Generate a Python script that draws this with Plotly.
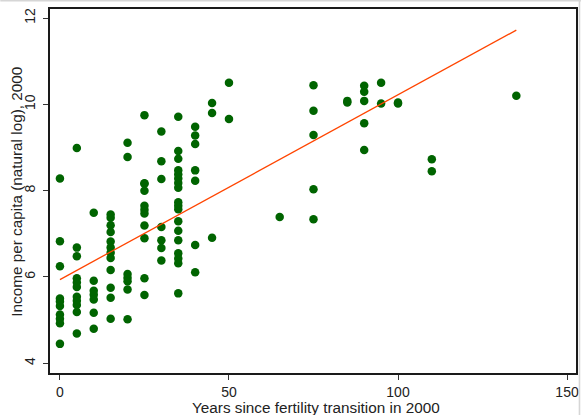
import plotly.graph_objects as go

# Data
years_0 = [0]*10
inc_0 = [8.28, 6.83, 6.25, 5.50, 5.43, 5.33, 5.13, 5.03, 4.93, 4.45]
years_5 = [5]*11
inc_5 = [8.99, 6.68, 6.48, 5.97, 5.87, 5.77, 5.54, 5.45, 5.35, 5.19, 4.69]
years_10 = [10]*7
inc_10 = [7.49, 5.91, 5.68, 5.59, 5.48, 5.17, 4.80]
years_15 = [15]*12
inc_15 = [7.45, 7.37, 7.20, 7.04, 6.82, 6.68, 6.56, 6.44, 6.16, 5.75, 5.52, 5.03]
years_20 = [20]*7
inc_20 = [9.11, 8.78, 6.07, 5.98, 5.90, 5.71, 5.02]
years_25 = [25]*11
inc_25 = [9.75, 8.17, 8.00, 7.65, 7.56, 7.47, 7.19, 6.90, 5.97, 5.58, 8.16]
years_30 = [30]*7
inc_30 = [9.37, 8.68, 8.27, 7.16, 6.85, 6.67, 6.38]
years_35 = [35]*18
inc_35 = [9.71, 8.92, 8.74, 8.47, 8.38, 8.28, 8.18, 8.07, 7.73, 7.65, 7.57,
          7.29, 7.07, 6.85, 6.55, 6.43, 6.32, 5.62]
years_40 = [40]*7
inc_40 = [9.48, 9.28, 9.08, 8.47, 8.23, 6.74, 6.11]
years_45 = [45]*3
inc_45 = [10.03, 9.80, 6.91]
years_50 = [50]*2
inc_50 = [10.50, 9.66]
years_65 = [65]
inc_65 = [7.39]
years_75 = [75]*5
inc_75 = [10.44, 9.85, 9.29, 8.03, 7.34]
years_85 = [85]*2
inc_85 = [10.08, 10.04]
years_90 = [90]*5
inc_90 = [10.43, 10.29, 10.08, 9.56, 8.94]
years_95 = [95]*2
inc_95 = [10.50, 10.02]
years_100 = [100]*2
inc_100 = [10.04, 10.02]
years_110 = [110]*2
inc_110 = [8.73, 8.45]
years_135 = [135]
inc_135 = [10.20]

fit_x = [0, 135]
fit_y = [5.94, 11.72]

x_ticks = [0, 50, 100, 150]
y_ticks = [4, 6, 8, 10, 12]

x_title = "Years since fertility transition in 2000"
y_title = "Income per capita (natural log), 2000"

years = (years_0 + years_5 + years_10 + years_15 + years_20 + years_25 + years_30 +
         years_35 + years_40 + years_45 + years_50 + years_65 + years_75 + years_85 +
         years_90 + years_95 + years_100 + years_110 + years_135)
income = (inc_0 + inc_5 + inc_10 + inc_15 + inc_20 + inc_25 + inc_30 + inc_35 +
          inc_40 + inc_45 + inc_50 + inc_65 + inc_75 + inc_85 + inc_90 + inc_95 +
          inc_100 + inc_110 + inc_135)

fig = go.Figure()
fig.add_trace(go.Scatter(x=years, y=income, mode="markers",
                         marker=dict(color="#006400", size=8.5, line=dict(width=0)),
                         showlegend=False, hoverinfo="skip"))
fig.add_trace(go.Scatter(x=fit_x, y=fit_y, mode="lines",
                         line=dict(color="#FF4500", width=1.3),
                         showlegend=False, hoverinfo="skip"))

L, R, T, B = 50, 5, 9, 42
W, H = 584, 415
pw, ph = W - L - R, H - T - B

tick_font = dict(family="Liberation Sans, Arial, sans-serif", size=14, color="#222222")
title_font = dict(family="Liberation Sans, Arial, sans-serif", size=15.3, color="#222222")

fig.update_layout(
    width=W, height=H,
    margin=dict(l=L, r=R, t=T, b=B, pad=0),
    paper_bgcolor="white", plot_bgcolor="white",
    font=tick_font,
    xaxis=dict(range=[-2.94, 152.65], tickvals=x_ticks, ticks="outside", ticklen=5,
               tickwidth=1.2, tickcolor="#333333", showgrid=False, zeroline=False,
               showline=True, linecolor="#1a1a1a", linewidth=1.6, mirror=True,
               tickfont=tick_font),
    yaxis=dict(range=[3.775, 12.209], tickvals=y_ticks, ticks="outside", ticklen=5,
               tickwidth=1.2, tickcolor="#333333", showgrid=False, zeroline=False,
               showline=True, linecolor="#1a1a1a", linewidth=1.6, mirror=True,
               tickangle=-90, ticklabelstandoff=3,
               tickfont=tick_font),
    annotations=[
        dict(text=x_title, xref="paper", yref="paper",
             x=(317.5 - L)/pw, y=-(407 - (H - B))/ph,
             xanchor="center", yanchor="middle", showarrow=False, font=title_font),
        dict(text=y_title, xref="paper", yref="paper",
             x=(16 - L)/pw, y=1 - (191.5 - T)/ph, textangle=-90,
             xanchor="center", yanchor="middle", showarrow=False, font=title_font),
    ],
    shapes=[
        dict(type="line", xref="paper", yref="paper",
             x0=-L/pw, x1=1 + R/pw, y0=1 + (T - 0.8)/ph, y1=1 + (T - 0.8)/ph,
             line=dict(color="#d6d6d6", width=1.6)),
        dict(type="line", xref="paper", yref="paper",
             x0=1 + (R - 1.5)/pw, x1=1 + (R - 1.5)/pw, y0=-B/ph, y1=1 + T/ph,
             line=dict(color="#d6d6d6", width=1.6)),
    ],
)

fig.write_html("out.html", config={"displayModeBar": False},
               post_script="document.body.style.margin='0px';document.body.style.overflow='hidden';")
